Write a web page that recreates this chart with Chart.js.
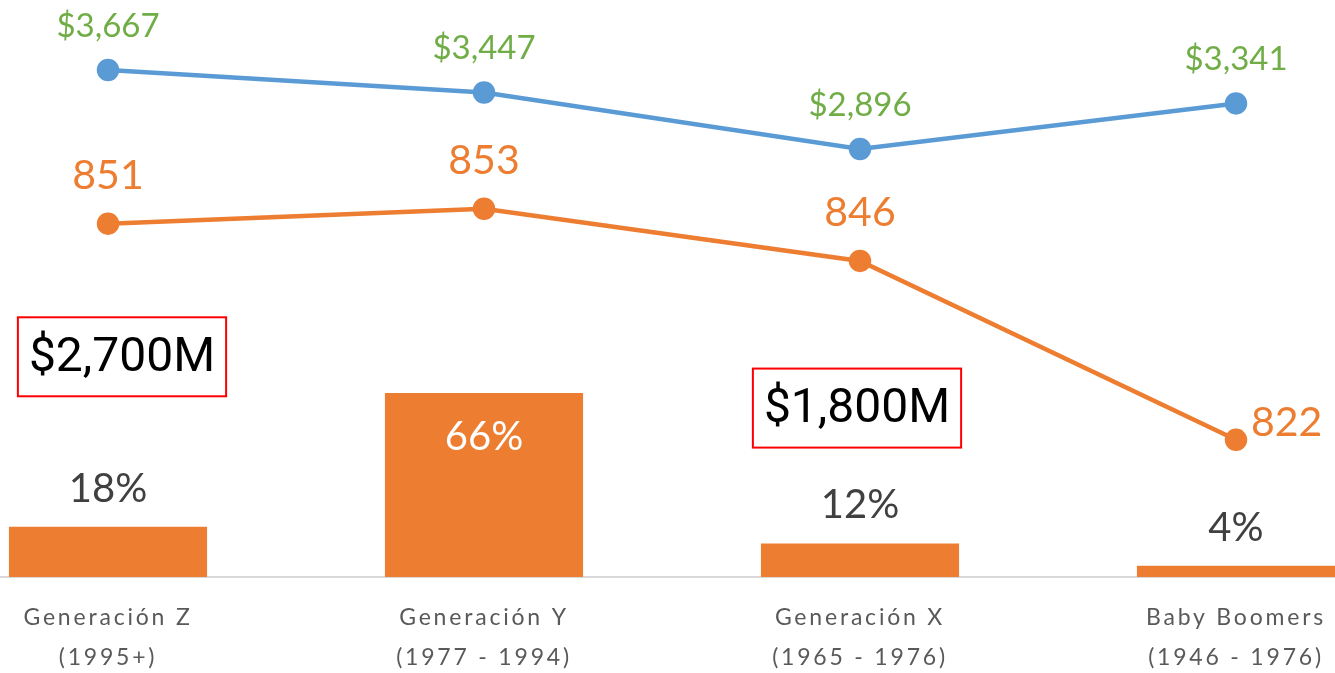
<!DOCTYPE html>
<html>
<head>
<meta charset="utf-8">
<script src="https://cdn.jsdelivr.net/npm/chart.js@4.4.1/dist/chart.umd.min.js"></script>
<style>
  html, body { margin: 0; padding: 0; background: #fff; overflow: hidden; }
  /* el gráfico original está recortado a los lados: el lienzo es más ancho que la ventana */
  #wrap { position: absolute; left: -80px; top: 0; width: 1504px; height: 673px; }
</style>
</head>
<body>
<div id="wrap"><canvas id="chart" width="1504" height="673"></canvas></div>
<script>
// datos
const categorias = [
  ['Generación Z', '(1995+)'],
  ['Generación Y', '(1977 - 1994)'],
  ['Generación X', '(1965 - 1976)'],
  ['Baby Boomers', '(1946 - 1976)']
];
const participacion = [18, 66, 12, 4];          // % barras
const ticketPromedio = [3667, 3447, 2896, 3341]; // línea azul
const frecuencia = [851, 853, 846, 822];         // línea naranja
const montos = ['$2,700M', null, '$1,800M', null];

const AZUL = '#5B9BD5';
const NARANJA = '#ED7D31';
const VERDE = '#70AD47';
const GRIS = '#404040';

// espaciado de letras para las etiquetas del eje x
const espaciado = {
  id: 'espaciado',
  beforeDraw(chart) { chart.ctx.letterSpacing = '2.8px'; },
  beforeDatasetsDraw(chart) { chart.ctx.letterSpacing = '0px'; }
};

// etiquetas de datos dibujadas a mano (no hay plugin datalabels)
const etiquetas = {
  id: 'etiquetas',
  afterDatasetsDraw(chart) {
    const ctx = chart.ctx;
    ctx.save();
    ctx.letterSpacing = '0px';
    ctx.textAlign = 'center';
    ctx.textBaseline = 'middle';

    // barras
    const mBar = chart.getDatasetMeta(0);
    mBar.data.forEach((el, i) => {
      const v = participacion[i];
      ctx.font = '40px Lato';
      if (v > 50) {
        ctx.fillStyle = '#FFFFFF';
        ctx.fillText(v + '%', el.x, el.y + 44);
      } else {
        ctx.fillStyle = GRIS;
        ctx.fillText(v + '%', el.x, el.y - 38);
      }
    });

    // línea azul
    const mAzul = chart.getDatasetMeta(1);
    ctx.font = '33px Lato';
    ctx.fillStyle = VERDE;
    mAzul.data.forEach((el, i) => {
      ctx.fillText('$' + ticketPromedio[i].toLocaleString('en-US'), el.x, el.y - 44);
    });

    // línea naranja
    const mNar = chart.getDatasetMeta(2);
    ctx.font = '41px Lato';
    ctx.fillStyle = NARANJA;
    mNar.data.forEach((el, i) => {
      if (i === frecuencia.length - 1) {
        ctx.textAlign = 'left';
        ctx.fillText(String(frecuencia[i]), el.x + 15, el.y - 17);
        ctx.textAlign = 'center';
      } else {
        ctx.fillText(String(frecuencia[i]), el.x, el.y - 48);
      }
    });

    // recuadros rojos con montos
    const x = chart.scales.x, yb = chart.scales.yBar;
    const posY = [79, null, 60.6, null];
    const dx = [14, 0, -3, 0];
    ctx.font = '48px Roboto';
    montos.forEach((t, i) => {
      if (!t) return;
      const cx = x.getPixelForValue(i) + dx[i];
      const cy = yb.getPixelForValue(posY[i]);
      const w = ctx.measureText(t).width + 22, h = 79;
      ctx.strokeStyle = '#FF0000';
      ctx.lineWidth = 2;
      ctx.strokeRect(cx - w / 2, cy - h / 2, w, h);
      ctx.fillStyle = '#000000';
      ctx.fillText(t, cx, cy + 2);
    });
    ctx.restore();
  }
};

new Chart(document.getElementById('chart'), {
  data: {
    labels: categorias,
    datasets: [
      {
        type: 'bar',
        data: participacion,
        yAxisID: 'yBar',
        backgroundColor: NARANJA,
        barPercentage: 0.527,
        categoryPercentage: 1,
        order: 3
      },
      {
        type: 'line',
        data: ticketPromedio,
        yAxisID: 'yAzul',
        borderColor: AZUL,
        backgroundColor: AZUL,
        borderWidth: 4.5,
        pointRadius: 9,
        pointHoverRadius: 9,
        tension: 0,
        order: 1
      },
      {
        type: 'line',
        data: frecuencia,
        yAxisID: 'yNaranja',
        borderColor: NARANJA,
        backgroundColor: NARANJA,
        borderWidth: 4.5,
        pointRadius: 9,
        pointHoverRadius: 9,
        tension: 0,
        order: 2
      }
    ]
  },
  options: {
    responsive: false,
    animation: false,
    layout: { padding: 0, autoPadding: false },
    plugins: {
      legend: { display: false },
      tooltip: { enabled: false }
    },
    scales: {
      x: {
        grid: { display: false, drawTicks: false },
        border: { display: true, color: '#D9D9D9', width: 2 },
        ticks: {
          color: '#595959',
          font: { family: 'Lato', size: 23, lineHeight: 40 / 23 },
          padding: 21,
          maxRotation: 0,
          autoSkip: false
        },
        afterFit: (s) => { s.height = 96; }
      },
      yBar: { display: false, min: 0, max: 207 },
      yAzul: { display: false, min: -1280, max: 4350 },
      yNaranja: { display: false, min: 803.6, max: 881 }
    }
  },
  plugins: [espaciado, etiquetas]
});
</script>
</body>
</html>
